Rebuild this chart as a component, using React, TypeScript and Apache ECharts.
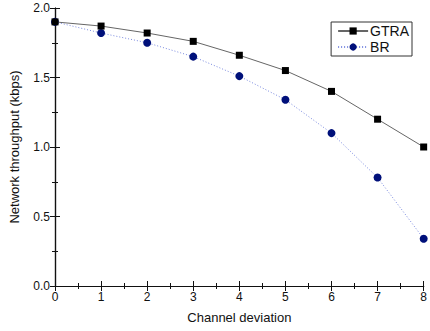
import React, { useEffect, useRef } from "react";
import * as echarts from "echarts";

const xValues = [0, 1, 2, 3, 4, 5, 6, 7, 8];
const gtra = [1.9, 1.87, 1.82, 1.76, 1.66, 1.55, 1.4, 1.2, 1.0];
const br = [1.9, 1.82, 1.75, 1.65, 1.51, 1.34, 1.1, 0.78, 0.34];

const FONT = "Liberation Sans";

export default function App() {
  const ref = useRef<HTMLDivElement>(null);
  useEffect(() => {
    if (!ref.current) return;
    const chart = echarts.init(ref.current, undefined, { renderer: "svg" });
    const tickCommon = {
      axisLine: { show: true, lineStyle: { color: "#111", width: 1.2 } },
      axisTick: { show: true, inside: true, length: 5, lineStyle: { color: "#111" } },
      minorTick: { show: true, splitNumber: 2, length: 3, lineStyle: { color: "#111" } },
      splitLine: { show: false },
    };
    chart.setOption({
      animation: false,
      backgroundColor: "#fff",
      grid: { left: 55, right: 2, top: 8, bottom: 45 },
      legend: {
        top: 22,
        right: 18,
        orient: "vertical",
        itemWidth: 30,
        itemHeight: 9,
        itemGap: 2,
        padding: [2, 3, 2, 6],
        borderColor: "#333",
        borderWidth: 1,
        textStyle: { fontFamily: FONT, fontSize: 14, color: "#111", padding: [0, 0, 0, -3] },
        data: ["GTRA", "BR"],
      },
      xAxis: [
        {
          type: "value",
          min: 0,
          max: 8,
          interval: 1,
          name: "Channel deviation",
          nameLocation: "middle",
          nameGap: 25,
          nameTextStyle: { fontFamily: FONT, fontSize: 13, color: "#111" },
          axisLabel: { fontFamily: FONT, fontSize: 12, color: "#111", margin: 5 },
          ...tickCommon,
        },
        {
          type: "value",
          position: "top",
          min: 0,
          max: 8,
          interval: 1,
          axisLabel: { show: false },
          ...tickCommon,
        },
      ],
      yAxis: [
        {
          type: "value",
          min: 0,
          max: 2,
          interval: 0.5,
          name: "Network throughput (kbps)",
          nameLocation: "middle",
          nameGap: 34,
          nameTextStyle: { fontFamily: FONT, fontSize: 13, color: "#111" },
          axisLabel: {
            fontFamily: FONT,
            fontSize: 12,
            color: "#111",
            margin: 5,
            formatter: (v: number) => v.toFixed(1),
          },
          ...tickCommon,
        },
        {
          type: "value",
          position: "right",
          min: 0,
          max: 2,
          interval: 0.5,
          axisLabel: { show: false },
          ...tickCommon,
        },
      ],
      series: [
        {
          name: "GTRA",
          type: "line",
          data: xValues.map((x, i) => [x, gtra[i]]),
          symbol: "rect",
          symbolSize: 7,
          itemStyle: { color: "#000" },
          lineStyle: { color: "#666", width: 1 },
          z: 3,
        },
        {
          name: "BR",
          type: "line",
          data: xValues.map((x, i) => [x, br[i]]),
          symbol: "circle",
          symbolSize: 8,
          itemStyle: { color: "#00107a" },
          lineStyle: { color: "#7a8ae0", width: 1, type: [1, 2] },
          z: 2,
        },
      ],
    });
    return () => chart.dispose();
  }, []);
  return <div ref={ref} style={{ width: 430, height: 331, position: "absolute", left: 0, top: 0 }} />;
}
